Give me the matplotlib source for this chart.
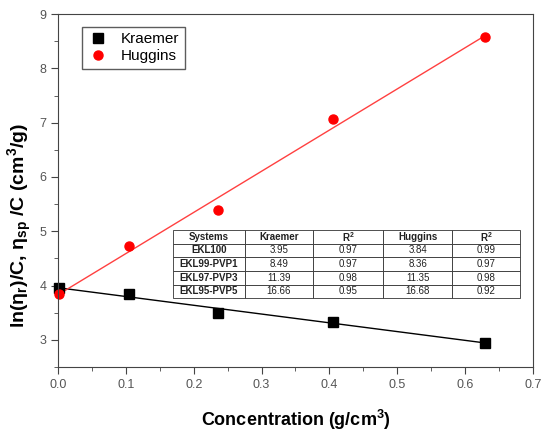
import numpy as np
import matplotlib
matplotlib.use("Agg")
import matplotlib.pyplot as plt

plt.rcParams['font.family'] = ['Liberation Sans', 'DejaVu Sans']
plt.rcParams['mathtext.default'] = 'regular'

conc = [0.002, 0.105, 0.236, 0.405, 0.630]
kraemer = [3.96, 3.84, 3.49, 3.33, 2.95]
huggins = [3.84, 4.73, 5.40, 7.06, 8.57]

table_cols = ["Systems", "Kraemer", "R$^2$", "Huggins", "R$^2$"]
table_rows = [
    ["EKL100", "3.95", "0.97", "3.84", "0.99"],
    ["EKL99-PVP1", "8.49", "0.97", "8.36", "0.97"],
    ["EKL97-PVP3", "11.39", "0.98", "11.35", "0.98"],
    ["EKL95-PVP5", "16.66", "0.95", "16.68", "0.92"],
]

fig = plt.figure(figsize=(5.5, 4.4), dpi=100)
ax = fig.add_axes([0.1055, 0.166, 0.8635, 0.802])

x = np.array(conc)
xl = np.array([0.0, 0.63])
pk = np.polyfit(x, kraemer, 1)
ph = np.polyfit(x, huggins, 1)
ax.plot(xl, np.polyval(pk, xl), color='black', lw=1.0)
ax.plot(xl, np.polyval(ph, xl), color='#ff4040', lw=1.0)
ax.plot(x, kraemer, 's', color='black', ms=6.5, label='Kraemer', clip_on=False)
ax.plot(x, huggins, 'o', color='red', ms=6.5, label='Huggins', clip_on=False)

ax.set_xlim(0, 0.7)
ax.set_ylim(2.5, 9)
ax.set_xticks(np.arange(0, 0.71, 0.1))
ax.set_xticks(np.arange(0.05, 0.7, 0.1), minor=True)
ax.set_yticks(np.arange(3, 9.1, 1))
ax.set_yticks(np.arange(2.5, 9.0, 1.0), minor=True)
ax.set_xticklabels(["%.1f" % v for v in np.arange(0, 0.71, 0.1)])
ax.tick_params(which='both', direction='out', colors='#444444', labelcolor='#555555', labelsize=9)
ax.tick_params(which='major', length=5)
ax.tick_params(which='minor', length=3)
for s in ax.spines.values():
    s.set_color('#444444')

ax.set_xlabel('Concentration (g/cm$^3$)', fontsize=13, fontweight='bold', labelpad=12)
ax.set_ylabel(r'ln($\eta_r$)/C, $\eta_{sp}$ /C (cm$^3$/g)', fontsize=14, fontweight='bold')
ax.yaxis.set_label_coords(-0.05, 0.40)

leg = ax.legend(loc='upper left', bbox_to_anchor=(0.035, 0.985), fontsize=11,
                frameon=True, fancybox=False, edgecolor='#333333',
                handletextpad=0.8, handlelength=1.4, borderpad=0.35, labelspacing=0.2)
leg.get_frame().set_linewidth(1.0)

tbl = ax.table(cellText=table_rows, colLabels=table_cols, cellLoc='center',
               bbox=[0.242, 0.195, 0.731, 0.193])
tbl.auto_set_font_size(False)
tbl.set_fontsize(7)
widths = [72, 68, 70, 69, 68]
tot = sum(widths)
for (r, c), cell in tbl.get_celld().items():
    cell.set_width(widths[c] / tot * 0.731)
    cell.set_linewidth(0.6)
    cell.set_edgecolor('#333333')
    cell.get_text().set_fontweight('bold' if (c == 0 or r == 0) else 'normal')
    cell.get_text().set_color('#222222')

fig.savefig('out.png', dpi=100)
